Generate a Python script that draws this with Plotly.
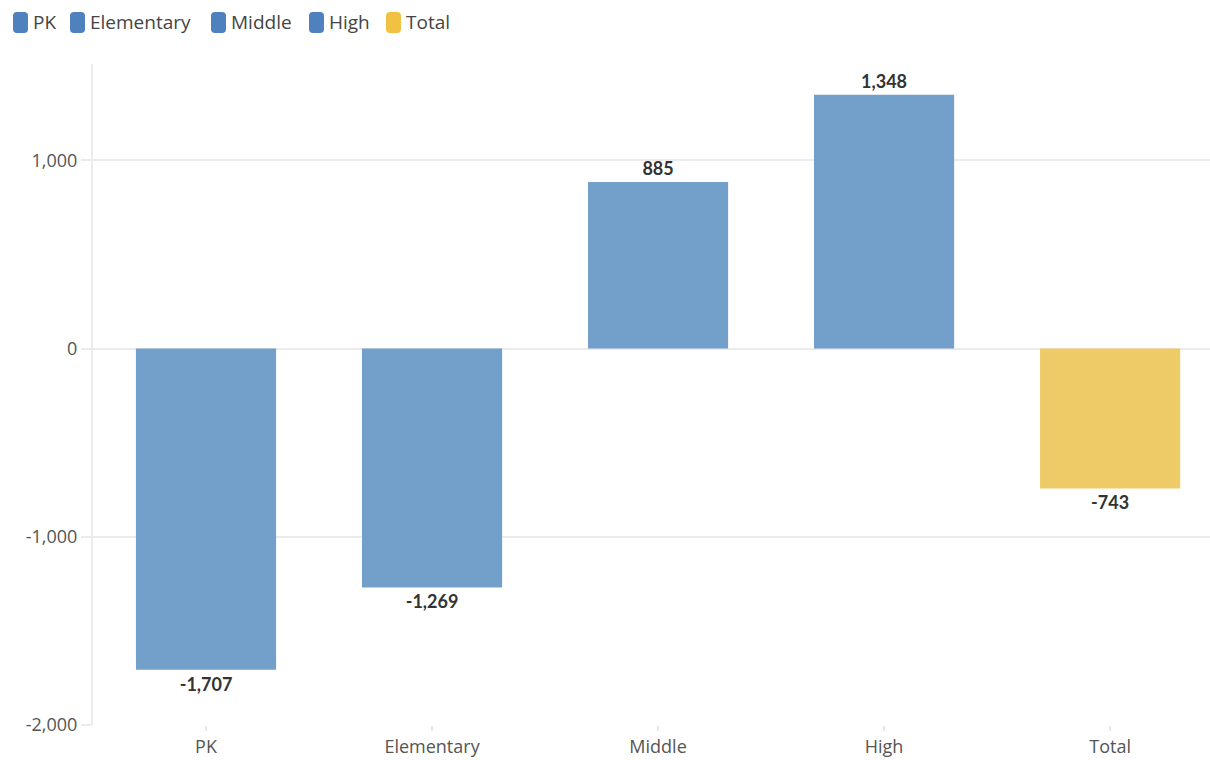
import plotly.graph_objects as go

categories = ["PK", "Elementary", "Middle", "High", "Total"]
values = [-1707, -1269, 885, 1348, -743]
bar_colors = ["#739fcb", "#739fcb", "#739fcb", "#739fcb", "#efcb68"]
legend_colors = ["#4f81bf", "#4f81bf", "#4f81bf", "#4f81bf", "#f0c142"]
y_ticks = [-2000, -1000, 0, 1000]
y_tick_text = ["-2,000", "-1,000", "0", "1,000"]

FONT = "Lato, 'Open Sans', sans-serif"
FONT2 = "'Open Sans', Lato, sans-serif"

T, B = 64, 35
PH = 760 - T - B

fig = go.Figure()
for cat, val, col in zip(categories, values, bar_colors):
    fig.add_trace(go.Bar(
        x=[cat], y=[val], width=0.62,
        marker=dict(color=col, line=dict(width=0)),
        text=[f"{val:,}"], textposition="outside", cliponaxis=False,
        textfont=dict(family=FONT, size=18, color="#333333", weight="bold"),
        showlegend=False, name=cat,
    ))

# custom legend with rounded markers
legend_x = [13, 70, 211, 309, 386]
for cat, col, lx in zip(categories, legend_colors, legend_x):
    w, h, r = 15, 21, 4
    path = (f"M {lx + r} 0 L {lx + w - r} 0 Q {lx + w} 0 {lx + w} {r} "
            f"L {lx + w} {h - r} Q {lx + w} {h} {lx + w - r} {h} "
            f"L {lx + r} {h} Q {lx} {h} {lx} {h - r} L {lx} {r} Q {lx} 0 {lx + r} 0 Z")
    fig.add_shape(type="path", path=path, xref="paper", yref="paper",
                  xsizemode="pixel", ysizemode="pixel", xanchor=-93 / 1117, yanchor=1 + (T - 33) / PH,
                  fillcolor=col, line=dict(width=0), layer="above")
    fig.add_annotation(x=(lx + 18 - 93) / 1117, y=1 + (T - 22) / PH, xref="paper", yref="paper",
                       text=cat, showarrow=False, xanchor="left", yanchor="middle",
                       font=dict(family=FONT2, size=19, color="#444444"))

fig.update_layout(
    width=1210, height=760,
    margin=dict(l=93, r=0, t=T, b=B),
    paper_bgcolor="white", plot_bgcolor="white",
    barmode="overlay",
    showlegend=False,
    font=dict(family=FONT2, size=19, color="#555555"),
    xaxis=dict(
        categoryorder="array", categoryarray=categories,
        range=[-0.5, 4.442], showgrid=False, showline=False,
        ticks="outside", ticklen=5, tickcolor="#e6e6e6", tickwidth=2,
        tickfont=dict(family=FONT2, size=18, color="#555555"),
        automargin=False, ticklabelstandoff=0,
    ),
    yaxis=dict(
        range=[-2000, 1512], tickvals=y_ticks, ticktext=y_tick_text,
        showgrid=True, gridcolor="#ebebeb", gridwidth=2,
        zeroline=True, zerolinecolor="#ebebeb", zerolinewidth=2,
        showline=True, linecolor="#ebebeb", linewidth=2,
        ticks="outside", ticklen=10, tickcolor="#ebebeb", tickwidth=2,
        tickfont=dict(family=FONT2, size=18, color="#555555"),
        automargin=False,
    ),
)

fig.write_html("out.html")
